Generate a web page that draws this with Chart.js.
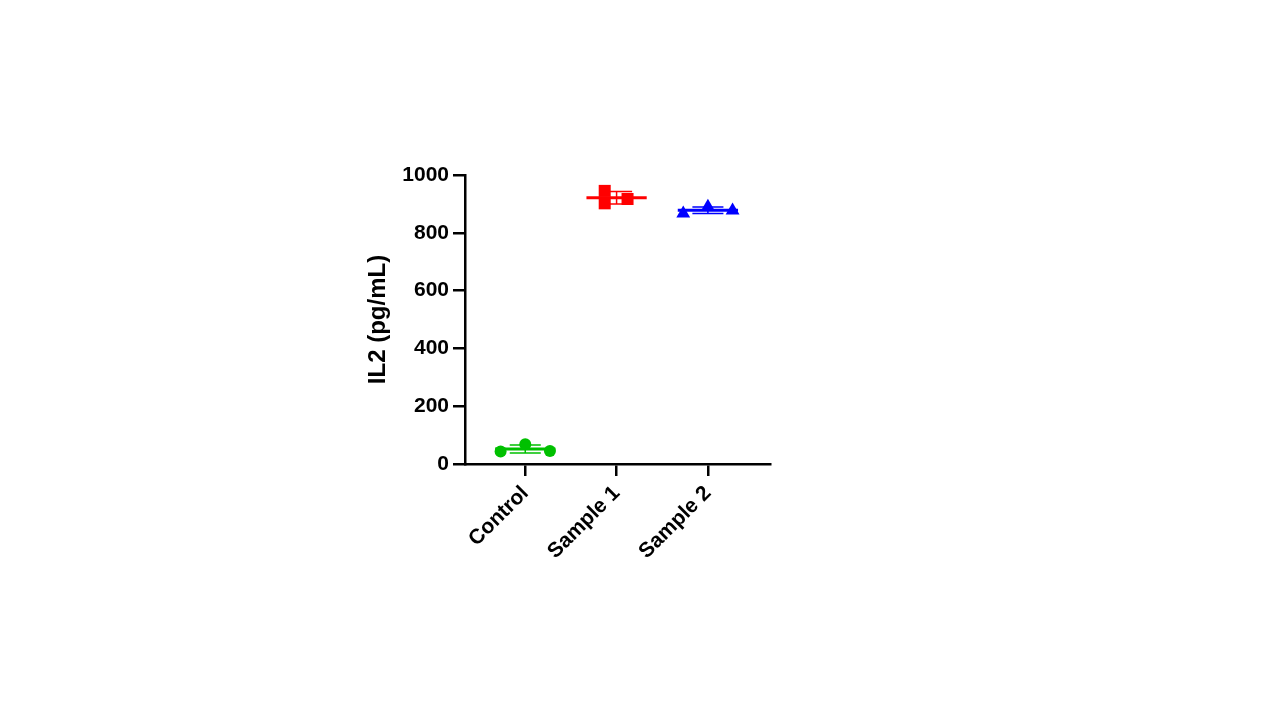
<!DOCTYPE html>
<html>
<head>
<meta charset="utf-8">
<title>IL2 (pg/mL)</title>
<script src="https://cdn.jsdelivr.net/npm/chart.js@4/dist/chart.umd.min.js"></script>
<style>
  html, body { margin: 0; padding: 0; background: #fff; }
  #wrap { width: 1280px; height: 720px; }
</style>
</head>
<body>
<div id="wrap"><canvas id="il2-chart" width="1280" height="720"></canvas></div>
<script>
// Data (replicates per group)
const categories = ['Control', 'Sample 1', 'Sample 2'];
const controlValues = [43, 68, 45];
const sample1Values = [945, 902, 917];
const sample2Values = [867, 890, 877];
const yTicks = [0, 200, 400, 600, 800, 1000];

(function () {
  'use strict';

  // Horizontal spread of the replicates inside each column, in category units
  const SPREAD = [
    [-0.27, 0, 0.27],
    [-0.13, -0.13, 0.12],
    [-0.27, 0, 0.27],
  ];
  const MEAN_HALF = 0.33; // half width of the mean bar
  const CAP_HALF = 0.17;  // half width of the SD caps

  const groups = [
    { values: controlValues, color: 'rgb(0,192,0)', style: 'circle', radius: 6 },
    { values: sample1Values, color: 'rgb(255,0,0)', style: 'rect', radius: 8.5 },
    { values: sample2Values, color: 'rgb(0,0,255)', style: 'triangle', radius: 8 },
  ];

  function mean(arr) {
    return arr.reduce((a, b) => a + b, 0) / arr.length;
  }

  function sd(arr) {
    const m = mean(arr);
    const ss = arr.reduce((a, b) => a + (b - m) * (b - m), 0);
    return Math.sqrt(ss / (arr.length - 1));
  }

  const datasets = groups.map((g, gi) => ({
    label: categories[gi],
    data: g.values.map((v, i) => ({ x: gi + SPREAD[gi][i], y: v })),
    pointStyle: g.style,
    pointRadius: g.radius,
    pointHoverRadius: g.radius,
    backgroundColor: g.color,
    borderColor: g.color,
    borderWidth: 0,
  }));

  /**
   * Mean line and SD whiskers, drawn behind the points
   */
  const meanSdPlugin = {
    id: 'meanSd',
    beforeDatasetsDraw(chart) {
      const { ctx, scales } = chart;
      const xs = scales.x;
      const ys = scales.y;
      ctx.save();
      groups.forEach((g, gi) => {
        const m = mean(g.values);
        const s = sd(g.values);
        const yM = ys.getPixelForValue(m);
        const yHi = ys.getPixelForValue(m + s);
        const yLo = ys.getPixelForValue(m - s);
        const xc = xs.getPixelForValue(gi);
        const capL = xs.getPixelForValue(gi - CAP_HALF);
        const capR = xs.getPixelForValue(gi + CAP_HALF);

        ctx.strokeStyle = g.color;
        ctx.lineWidth = 1.5;
        ctx.beginPath();
        ctx.moveTo(xc, yHi);
        ctx.lineTo(xc, yLo);
        ctx.moveTo(capL, yHi);
        ctx.lineTo(capR, yHi);
        ctx.moveTo(capL, yLo);
        ctx.lineTo(capR, yLo);
        ctx.stroke();

        ctx.lineWidth = 3;
        ctx.beginPath();
        ctx.moveTo(xs.getPixelForValue(gi - MEAN_HALF), yM);
        ctx.lineTo(xs.getPixelForValue(gi + MEAN_HALF), yM);
        ctx.stroke();
      });
      ctx.restore();
    },
  };

  const tickFont = { family: '"Liberation Sans", Arial, sans-serif', size: 21, weight: 'bold' };

  new Chart(document.getElementById('il2-chart'), {
    type: 'scatter',
    data: { datasets },
    plugins: [meanSdPlugin],
    options: {
      responsive: false,
      animation: false,
      devicePixelRatio: 1,
      layout: { padding: { left: 360, right: 510, top: 175, bottom: 146 } },
      plugins: {
        legend: { display: false },
        tooltip: { enabled: false },
      },
      scales: {
        x: {
          type: 'linear',
          min: -0.66,
          max: 2.68,
          afterBuildTicks: (scale) => {
            scale.ticks = categories.map((c, i) => ({ value: i }));
          },
          afterFit: (scale) => { scale.height = 110; },
          ticks: {
            color: '#000',
            font: tickFont,
            minRotation: 45,
            maxRotation: 45,
            padding: 5,
            callback: (v) => categories[v] || '',
          },
          grid: {
            display: true,
            drawOnChartArea: false,
            drawTicks: true,
            tickLength: 12,
            color: '#000',
            lineWidth: 2.5,
          },
          border: { display: true, color: '#000', width: 2.5 },
        },
        y: {
          min: 0,
          max: 1000,
          afterBuildTicks: (scale) => {
            scale.ticks = yTicks.map((v) => ({ value: v }));
          },
          afterFit: (scale) => { scale.width = 105; },
          ticks: {
            color: '#000',
            font: tickFont,
            padding: 4,
            callback: (v) => String(v),
          },
          grid: {
            display: true,
            drawOnChartArea: false,
            drawTicks: true,
            tickLength: 12,
            color: '#000',
            lineWidth: 2.5,
          },
          border: { display: true, color: '#000', width: 2.5 },
          title: {
            display: true,
            text: 'IL2 (pg/mL)',
            color: '#000',
            font: { family: '"Liberation Sans", Arial, sans-serif', size: 24, weight: 'bold' },
            padding: { top: 4, bottom: 4 },
          },
        },
      },
    },
  });
})();
</script>
</body>
</html>
